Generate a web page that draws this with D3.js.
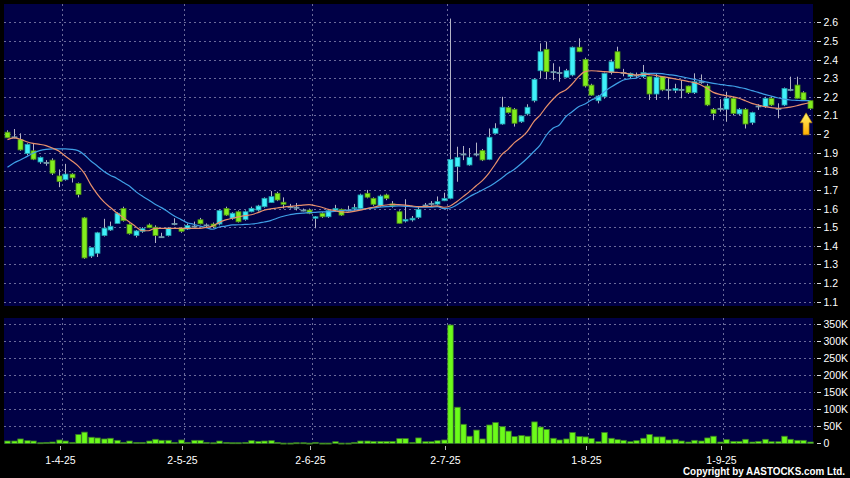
<!DOCTYPE html>
<html><head><meta charset="utf-8">
<script src="https://cdn.jsdelivr.net/npm/d3@7"></script>
<style>
html,body{margin:0;padding:0;background:#000;}
svg{display:block;}
text{font-family:"Liberation Sans",Arial,sans-serif;fill:#fff;}
</style></head>
<body>
<svg id="chart" width="850" height="478"></svg>
<script>
// ---------- data ----------
const tradingDays = {
  "2025-03": [19,20,21,24,25,26,27,28,31],
  "2025-04": [1,2,3,7,8,9,10,11,14,15,16,17,22,23,24,25,28,29,30],
  "2025-05": [2,6,7,8,9,12,13,14,15,16,19,20,21,22,23,26,27,28,29,30],
  "2025-06": [2,3,4,5,6,9,10,11,12,13,16,17,18,19,20,23,24,25,26,27,30],
  "2025-07": [2,3,4,7,8,9,10,11,14,15,16,17,18,21,22,23,24,25,28,29,30,31],
  "2025-08": [1,4,5,6,7,8,11,12,13,14,15,18,19,20,21,22,25,26,27,28,29],
  "2025-09": [1,2,3,4,5,8,9,10,11,12,15,16,17,18]
};
const dates = Object.entries(tradingDays).flatMap(([m, ds]) => ds.map(d => m + "-" + String(d).padStart(2, "0")));

const open = [2.01,1.985,1.97,1.895,1.91,1.85,1.848,1.86,1.775,
 1.755,1.785,1.735,1.55,1.345,1.36,1.455,1.485,1.52,1.60,1.515,1.455,1.478,1.512,1.50,1.449,1.455,1.52,1.495,
 1.49,1.506,1.54,1.512,1.517,1.517,1.60,1.548,1.583,1.542,1.583,1.592,1.61,1.632,1.682,1.634,1.61,1.607,1.592,1.592,
 1.548,1.575,1.556,1.592,1.596,1.592,1.60,1.601,1.682,1.655,1.614,1.673,1.625,1.583,1.533,1.539,1.553,1.619,1.625,1.624,1.642,
 1.655,1.825,1.893,1.834,1.893,1.911,1.864,2.004,2.054,2.142,2.133,2.066,2.108,2.179,2.34,2.455,2.335,2.33,2.305,2.317,2.466,2.401,
 2.263,2.179,2.20,2.33,2.442,2.33,2.308,2.317,2.308,2.308,2.215,2.308,2.24,2.235,2.24,2.258,2.222,2.281,2.258,2.133,2.138,
 2.133,2.192,2.108,2.133,2.061,2.151,2.147,2.192,2.138,2.156,2.24,2.263,2.222,2.179];
const high = [2.02,2.027,2.004,1.95,1.95,1.88,1.86,1.87,1.81,
 1.84,1.79,1.74,1.555,1.39,1.475,1.545,1.53,1.58,1.61,1.52,1.485,1.50,1.52,1.51,1.47,1.50,1.548,1.50,
 1.52,1.53,1.55,1.52,1.525,1.595,1.61,1.58,1.59,1.59,1.61,1.62,1.66,1.694,1.69,1.66,1.625,1.63,1.60,1.60,
 1.56,1.58,1.595,1.62,1.60,1.615,1.625,1.68,1.70,1.66,1.675,1.68,1.64,1.59,1.65,1.56,1.61,1.63,1.64,1.665,1.685,
 2.62,1.932,1.936,1.925,1.954,1.92,2.03,2.058,2.20,2.15,2.14,2.10,2.16,2.30,2.487,2.496,2.38,2.362,2.35,2.47,2.514,2.41,
 2.27,2.21,2.33,2.40,2.469,2.35,2.33,2.33,2.371,2.31,2.322,2.31,2.30,2.27,2.29,2.26,2.326,2.32,2.27,2.14,2.187,
 2.227,2.20,2.14,2.14,2.12,2.16,2.20,2.20,2.165,2.25,2.308,2.308,2.23,2.18];
const low = [1.98,1.977,1.91,1.885,1.86,1.84,1.83,1.78,1.715,
 1.75,1.74,1.66,1.33,1.335,1.34,1.45,1.48,1.52,1.53,1.46,1.445,1.47,1.495,1.415,1.445,1.45,1.51,1.47,
 1.485,1.50,1.515,1.495,1.495,1.51,1.56,1.54,1.525,1.535,1.58,1.585,1.605,1.63,1.64,1.60,1.60,1.59,1.585,1.57,
 1.494,1.55,1.55,1.585,1.56,1.585,1.59,1.595,1.655,1.615,1.61,1.645,1.605,1.52,1.525,1.53,1.545,1.61,1.615,1.62,1.64,
 1.65,1.744,1.86,1.83,1.88,1.855,1.86,2.0,2.05,2.11,2.04,2.06,2.10,2.17,2.30,2.294,2.29,2.281,2.30,2.31,2.44,2.25,
 2.205,2.165,2.19,2.32,2.35,2.31,2.30,2.30,2.30,2.183,2.183,2.23,2.185,2.22,2.192,2.215,2.215,2.27,2.15,2.075,2.12,
 2.066,2.10,2.10,2.03,2.05,2.13,2.14,2.15,2.085,2.15,2.23,2.19,2.18,2.13];
const close = [1.98,1.985,1.915,1.945,1.865,1.875,1.848,1.79,1.745,
 1.785,1.765,1.675,1.335,1.39,1.47,1.495,1.505,1.575,1.535,1.465,1.48,1.492,1.497,1.455,1.449,1.495,1.52,1.478,
 1.51,1.506,1.518,1.512,1.503,1.589,1.565,1.575,1.529,1.583,1.601,1.614,1.655,1.664,1.646,1.623,1.61,1.607,1.592,1.575,
 1.556,1.556,1.589,1.601,1.565,1.592,1.605,1.673,1.661,1.623,1.667,1.655,1.615,1.521,1.542,1.548,1.596,1.619,1.628,1.637,1.655,
 1.864,1.875,1.893,1.875,1.893,1.861,1.983,2.031,2.144,2.115,2.058,2.097,2.144,2.294,2.442,2.335,2.335,2.33,2.34,2.466,2.442,2.258,
 2.209,2.204,2.326,2.388,2.353,2.33,2.326,2.317,2.33,2.215,2.305,2.237,2.24,2.245,2.24,2.222,2.281,2.281,2.156,2.111,2.138,
 2.192,2.111,2.133,2.054,2.115,2.151,2.192,2.156,2.138,2.245,2.24,2.192,2.183,2.138];
// volume in thousands of shares
const volumeK = [7,7,13,8,7,2,3,4,10,
 7,3,26,33,18,16,13,15,9,3,7,3,3,7,12,9,9,3,10,
 3,9,9,3,2,7,3,2,2,3,8,6,7,8,3,1,1,2,2,1,
 3,1,1,5,1,1,3,7,7,6,6,6,6,14,14,3,16,5,5,8,10,
 347,106,56,21,39,13,54,61,49,36,20,23,21,63,48,41,15,10,13,32,20,19,
 14,5,32,15,11,9,5,8,15,26,19,19,10,12,7,4,9,7,16,21,4,
 11,6,6,12,4,6,12,5,5,21,12,9,9,4];
// moving averages (orange = short, blue = long)
const maShort = [1.970,1.980,1.972,1.959,1.950,1.945,1.938,1.925,1.909,
 1.882,1.857,1.829,1.789,1.727,1.678,1.637,1.607,1.578,1.553,1.528,1.503,1.481,1.481,1.494,1.494,1.494,1.494,1.494,
 1.494,1.494,1.494,1.499,1.506,1.526,1.539,1.548,1.555,1.562,1.567,1.578,1.591,1.598,1.603,1.608,1.612,1.615,1.619,1.621,
 1.615,1.607,1.596,1.589,1.582,1.580,1.585,1.592,1.600,1.607,1.614,1.619,1.623,1.621,1.618,1.614,1.610,1.610,1.612,1.614,1.607,
 1.614,1.637,1.664,1.691,1.721,1.750,1.789,1.838,1.888,1.918,1.954,1.980,2.013,2.066,2.102,2.147,2.187,2.219,2.237,2.269,2.308,2.335,
 2.340,2.338,2.335,2.333,2.331,2.328,2.322,2.317,2.322,2.319,2.315,2.308,2.303,2.296,2.290,2.283,2.276,2.265,2.246,2.224,2.213,
 2.206,2.200,2.192,2.179,2.165,2.156,2.147,2.142,2.138,2.140,2.145,2.152,2.161,2.168];
const maLong = [1.822,1.845,1.861,1.879,1.897,1.911,1.918,1.920,1.920,
 1.920,1.918,1.911,1.888,1.855,1.829,1.800,1.779,1.763,1.741,1.721,1.691,1.667,1.646,1.623,1.605,1.583,1.560,1.542,
 1.524,1.516,1.506,1.497,1.489,1.501,1.506,1.512,1.513,1.515,1.517,1.521,1.528,1.535,1.548,1.559,1.567,1.573,1.575,1.578,
 1.580,1.582,1.583,1.585,1.589,1.591,1.592,1.596,1.600,1.603,1.607,1.610,1.612,1.614,1.612,1.610,1.608,1.608,1.608,1.610,1.600,
 1.603,1.619,1.641,1.664,1.682,1.700,1.717,1.739,1.763,1.789,1.811,1.839,1.870,1.905,1.941,1.995,2.031,2.049,2.093,2.120,2.147,2.161,
 2.183,2.197,2.227,2.251,2.272,2.290,2.297,2.300,2.322,2.326,2.326,2.324,2.319,2.315,2.308,2.301,2.294,2.287,2.279,2.272,2.267,
 2.262,2.258,2.251,2.244,2.233,2.224,2.213,2.204,2.195,2.188,2.183,2.181,2.179,2.179];
const priceTicks = [1.1,1.2,1.3,1.4,1.5,1.6,1.7,1.8,1.9,2.0,2.1,2.2,2.3,2.4,2.5,2.6];
const volTicks = [0,50,100,150,200,250,300,350];
const monthTicks = [
  {date:"2025-04-01", label:"1-4-25"},
  {date:"2025-05-02", label:"2-5-25"},
  {date:"2025-06-02", label:"2-6-25"},
  {date:"2025-07-02", label:"2-7-25"},
  {date:"2025-08-01", label:"1-8-25"},
  {date:"2025-09-01", label:"1-9-25"}
];

// ---------- layout ----------
const svg = d3.select("#chart");
const NAVY = "#000046";
const GRID = "#6a6a9a";
const L = 4, R = 813;
const pTop = 4, pBot = 306, vTop = 318, vBot = 444;

const x = d3.scaleBand().domain(dates).range([4.25, 812.8]).padding(0);
const yP = d3.scaleLinear().domain([1.1, 2.6]).range([301.7, 22.3]);
const yV = d3.scaleLinear().domain([0, 350]).range([443.4, 324]);
const bw = x.bandwidth();
const cx = d => x(d) + bw / 2;

svg.append("rect").attr("width", 850).attr("height", 478).attr("fill", "#000");
svg.append("rect").attr("x", L).attr("y", pTop).attr("width", R - L).attr("height", pBot - pTop).attr("fill", NAVY);
svg.append("rect").attr("x", L).attr("y", vTop).attr("width", R - L).attr("height", vBot - vTop).attr("fill", NAVY);

// grids
const g = svg.append("g").attr("stroke", GRID).attr("stroke-width", 1).attr("stroke-dasharray", "2,3").attr("fill", "none");
g.selectAll(".hp").data(priceTicks).join("line")
  .attr("x1", L).attr("x2", R + 2).attr("y1", d => Math.round(yP(d)) + 0.5).attr("y2", d => Math.round(yP(d)) + 0.5);
g.selectAll(".hv").data(volTicks.filter(v => v > 0)).join("line")
  .attr("x1", L).attr("x2", R + 2).attr("y1", d => Math.round(yV(d)) + 0.5).attr("y2", d => Math.round(yV(d)) + 0.5);
monthTicks.forEach(m => {
  const xx = Math.round(x(m.date)) + 0.5;
  g.append("line").attr("x1", xx).attr("x2", xx).attr("y1", pTop).attr("y2", pBot);
  g.append("line").attr("x1", xx).attr("x2", xx).attr("y1", vTop).attr("y2", vBot);
});

// right axes
const FS = 10.5;
const ax = svg.append("g");
priceTicks.forEach(t => {
  const yy = Math.round(yP(t)) + 0.5;
  ax.append("line").attr("x1", 817).attr("x2", 821).attr("y1", yy).attr("y2", yy).attr("stroke", "#ddd");
  ax.append("text").attr("x", 823.5).attr("y", yy).attr("dy", "0.36em").attr("font-size", FS).text(d3.format("")(t));
});
volTicks.forEach(t => {
  const yy = Math.round(yV(t)) + 0.5;
  ax.append("line").attr("x1", 817).attr("x2", 821).attr("y1", yy).attr("y2", yy).attr("stroke", "#ddd");
  ax.append("text").attr("x", 823.5).attr("y", yy).attr("dy", "0.36em").attr("font-size", FS).text(t === 0 ? "0" : t + "K");
});
// bottom axis
monthTicks.forEach(m => {
  const xx = Math.round(x(m.date)) - 1.5;
  ax.append("line").attr("x1", xx).attr("x2", xx).attr("y1", 446).attr("y2", 450).attr("stroke", "#bbb");
  ax.append("text").attr("x", xx).attr("y", 463.5).attr("text-anchor", "middle").attr("font-size", FS).text(m.label);
});
svg.append("text").attr("x", 845).attr("y", 475).attr("text-anchor", "end").attr("font-size", 10).attr("font-weight", "bold")
  .attr("textLength", 162).attr("lengthAdjust", "spacingAndGlyphs")
  .text("Copyright by AASTOCKS.com Ltd.");

// candles
const candles = dates.map((d, i) => ({d, o: open[i], h: high[i], l: low[i], c: close[i], v: volumeK[i], s: maShort[i], lg: maLong[i]}));
const UPF = "#3ff0fa", UPS = "#1e9aa6", DNF = "#82ee1e", DNS = "#4c8e12", DOJI = "#9fc4d0";
const cg = svg.append("g");
cg.selectAll(".wick").data(candles).join("line")
  .attr("x1", d => Math.round(cx(d.d)) + 0.5).attr("x2", d => Math.round(cx(d.d)) + 0.5)
  .attr("y1", d => yP(d.h)).attr("y2", d => yP(d.l)).attr("stroke", "#b4b4c6").attr("stroke-width", 1);
const bodyW = 5;
cg.selectAll(".body").data(candles).join("rect")
  .attr("x", d => Math.round(cx(d.d)) + 0.5 - bodyW / 2)
  .attr("y", d => Math.min(yP(d.o), yP(d.c)))
  .attr("width", bodyW)
  .attr("height", d => Math.max(1, Math.abs(yP(d.o) - yP(d.c))))
  .attr("fill", d => d.c > d.o + 0.004 ? UPF : (d.c < d.o - 0.004 ? DNF : DOJI))
  .attr("stroke", d => d.c > d.o + 0.004 ? UPS : (d.c < d.o - 0.004 ? DNS : "#6f98a8"))
  .attr("stroke-width", 0.8);

// moving averages
const lineS = d3.line().x(d => cx(d.d)).y(d => yP(d.s)).curve(d3.curveMonotoneX);
const lineL = d3.line().x(d => cx(d.d)).y(d => yP(d.lg)).curve(d3.curveMonotoneX);
svg.append("path").datum(candles).attr("d", lineL).attr("fill", "none").attr("stroke", "#3f9fe6").attr("stroke-width", 1.2);
svg.append("path").datum(candles).attr("d", lineS).attr("fill", "none").attr("stroke", "#e8906c").attr("stroke-width", 1.2);

// volume
svg.selectAll(".vol").data(candles).join("rect")
  .attr("x", d => Math.round(cx(d.d)) + 0.5 - 2.75)
  .attr("y", d => yV(d.v))
  .attr("width", 5.5)
  .attr("height", d => Math.max(1, yV(0) - yV(d.v)))
  .attr("fill", "#6cfb1a").attr("stroke", "#3a7a26").attr("stroke-width", 0.8);

// marker arrow at last candle
const last = candles[candles.length - 1];
const defs = svg.append("defs");
const grad = defs.append("linearGradient").attr("id", "arr").attr("x1", 0).attr("x2", 0).attr("y1", 0).attr("y2", 1);
grad.append("stop").attr("offset", "0%").attr("stop-color", "#fff36a");
grad.append("stop").attr("offset", "100%").attr("stop-color", "#ffae00");
const ax0 = cx(last.d) - 3.5, ay0 = yP(last.l) + 3;
svg.append("path")
  .attr("d", `M${ax0},${ay0} L${ax0 + 6},${ay0 + 10} L${ax0 + 3},${ay0 + 10} L${ax0 + 3},${ay0 + 22} L${ax0 - 3},${ay0 + 22} L${ax0 - 3},${ay0 + 10} L${ax0 - 6},${ay0 + 10} Z`)
  .attr("fill", "url(#arr)").attr("stroke", "#b07a00").attr("stroke-width", 0.6);
</script>
</body></html>
